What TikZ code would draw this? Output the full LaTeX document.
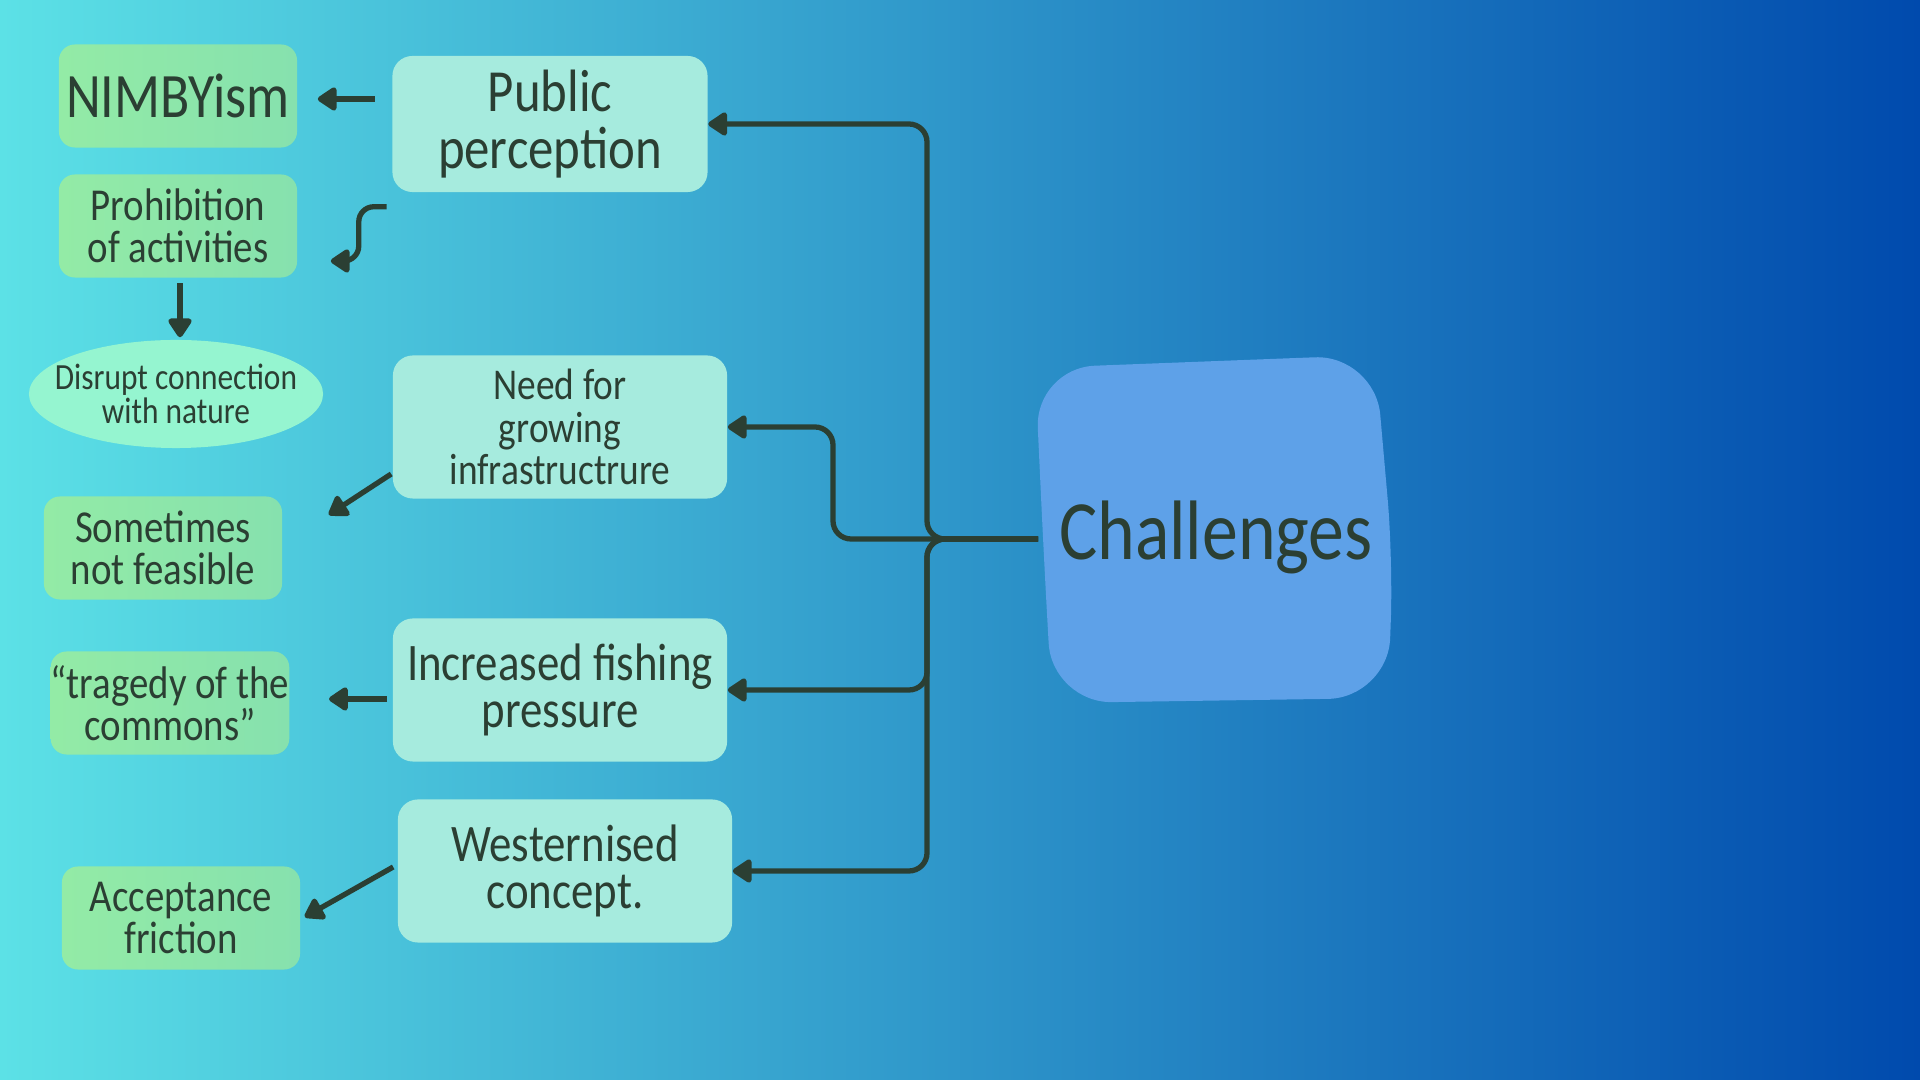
\documentclass[tikz,border=0pt]{standalone}
\usepackage{fontspec}
\setmainfont{Carlito}[FakeStretch=0.85]
\usetikzlibrary{positioning, arrows.meta, shapes.geometric}
\definecolor{bgleft}{HTML}{5CE1E6}
\definecolor{bgright}{HTML}{004AAD}
\definecolor{ink}{HTML}{2B3F33}
\definecolor{leafA}{HTML}{93EBA6}
\definecolor{leafB}{HTML}{86E1AE}
\definecolor{aqua}{HTML}{A6EBDE}
\definecolor{mint}{HTML}{95F5D0}
\definecolor{core}{HTML}{5EA1E8}

\begin{document}
\begin{tikzpicture}[x=0.01cm, y=-0.01cm, text=ink,
  >={Triangle[length=6pt, width=7.5pt, round]},
  leaf/.style={rectangle, rounded corners=0.16cm, left color=leafA, right color=leafB,
               minimum width=2.38cm, minimum height=1.03cm, inner sep=0pt, align=center,
               font=\fontsize{13}{12}\selectfont},
  issue/.style={rectangle, rounded corners=0.2cm, fill=aqua, minimum width=3.34cm,
                minimum height=1.43cm, inner sep=0pt, align=center,
                font=\fontsize{15}{13.5}\selectfont},
  link/.style={->, draw=ink, line width=1.5pt},
  branch/.style={link, rounded corners=0.18cm},
]
  \shade[left color=bgleft, right color=bgright] (0,0) rectangle (1920,1080);
  \useasboundingbox (0,0) rectangle (1920,1080);

  % hand-drawn looking blob behind the central topic
  \fill[core, rounded corners=0.6cm] (1044,560) -- (1035,368) -- (1375,355)
       -- (1393,560) -- (1388,698) -- (1052,703) -- cycle;
  \node[minimum width=3.54cm, minimum height=3.43cm, font=\fontsize{24}{24}\selectfont]
       (ch) at (1216,537) {Challenges};

  \node[issue, minimum width=3.15cm, minimum height=1.36cm, font=\fontsize{17}{16}\selectfont]
       (pp) at (550,124) {Public\\perception};
  \node[issue, font=\fontsize{12.5}{12}\selectfont] (ng) at (560,427) {Need for\\growing\\infrastructrure};
  \node[issue] (fp) at (560,690) {Increased fishing\\pressure};
  \node[issue] (wc) at (565,871) {Westernised\\concept.};

  \node[leaf, font=\fontsize{18}{18}\selectfont] (nb) at (178,96) {NIMBYism};
  \node[leaf] (pb) at (178,226) {Prohibition\\of activities};
  \node[ellipse, fill=mint, minimum width=2.94cm, minimum height=1.08cm,
        inner xsep=-8pt, inner ysep=-2pt, align=center, font=\fontsize{10.5}{9.5}\selectfont]
       (dc) at (176,394) {Disrupt connection\\with nature};
  \node[leaf] (sf) at (163,548) {Sometimes\\not feasible};
  \node[leaf] (tc) at (170,703) {“tragedy of the\\commons”};
  \node[leaf] (af) at (181,918) {Acceptance\\friction};

  \coordinate (hub) at (927,539);
  \coordinate (nbend) at (833,539);
  \draw[branch] ([shift={(0,2)}]ch.west) -- (hub) |- (pp.east);
  \draw[branch] ([shift={(0,2)}]ch.west) -- (nbend) |- (ng.east);
  \draw[branch] ([shift={(0,2)}]ch.west) -- (hub) |- (fp.east);
  \draw[branch] ([shift={(0,2)}]ch.west) -- (hub) |- (wc.east);

  \draw[link] ([shift={(-17,-25)}]pp.west) -- ([shift={(20,3)}]nb.east);
  \draw[link, rounded corners=0.15cm] ([shift={(-5,14)}]pp.south west)
        -| ([shift={(61,35)}]pb.east) -- ([shift={(33,35)}]pb.east);
  \draw[link] ([shift={(2,5)}]pb.south) -- ([shift={(4,-2)}]dc.north);
  \draw[link] ([shift={(-1,47)}]ng.west) -- ([shift={(46,19)}]sf.north east);
  \draw[link] ([shift={(-5,9)}]fp.west) -- ([shift={(39,-4)}]tc.east);
  \draw[link] ([shift={(-4,-4)}]wc.west) -- ([shift={(4,-1)}]af.east);
\end{tikzpicture}
\end{document}
